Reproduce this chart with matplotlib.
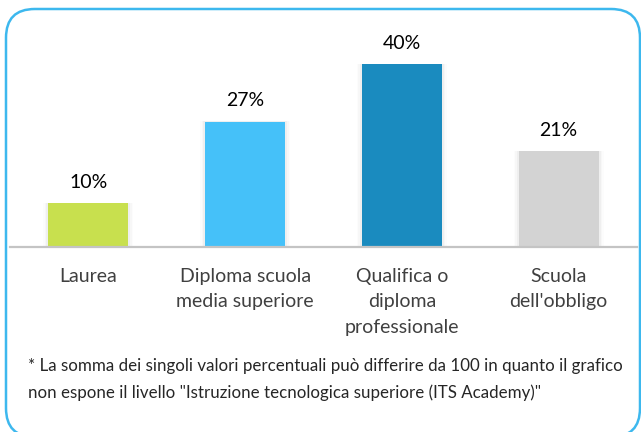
import matplotlib
matplotlib.use("Agg")
import matplotlib.pyplot as plt
from matplotlib.patches import FancyBboxPatch

categories = ["Laurea", "Diploma scuola\nmedia superiore", "Qualifica o\ndiploma\nprofessionale", "Scuola\ndell'obbligo"]
values = [9.6, 27.4, 40.0, 20.9]
value_labels = ["10%", "27%", "40%", "21%"]
colors = ["#C8E04E", "#45C1F9", "#1A8BBF", "#D3D3D3"]
footnote = ("* La somma dei singoli valori percentuali può differire da 100 in quanto il grafico\n"
            "non espone il livello \"Istruzione tecnologica superiore (ITS Academy)\"")

plt.rcParams['font.family'] = ['Lato', 'DejaVu Sans']

W, H = 641, 432
fig = plt.figure(figsize=(W/100, H/100), dpi=100)

def fx(px): return px / W
def fy(py): return 1 - py / H

border = FancyBboxPatch((fx(6), fy(437)), fx(640) - fx(6), fy(9) - fy(437),
                        boxstyle="round,pad=0,rounding_size=0.045",
                        transform=fig.transFigure, fill=False,
                        edgecolor="#3DB8EE", linewidth=1.8, clip_on=False,
                        mutation_aspect=W/H)
fig.patches.append(border)

ax_left, ax_right = 10, 637
ax_base, ax_top = 247, 20
ax = fig.add_axes([fx(ax_left), fy(ax_base), fx(ax_right) - fx(ax_left), fy(ax_top) - fy(ax_base)])
px_per_unit = 4.57
ax.set_ylim(0, (ax_base - ax_top) / px_per_unit)
ax.set_xlim(-0.5, len(values) - 0.5)

x = list(range(len(values)))
# soft shadow
for w, a in [(0.575, 0.012), (0.555, 0.02), (0.535, 0.03)]:
    ax.bar(x, [v + 0.1 for v in values], width=w, color="#000000", alpha=a, zorder=1, linewidth=0)
ax.bar(x, values, width=0.51, color=colors, zorder=2, linewidth=0)

for xi, v, lab in zip(x, values, value_labels):
    ax.annotate(lab, (xi, v), xytext=(0, 21), textcoords="offset pixels",
                ha="center", va="center", fontsize=14, color="#000000")

for s in ["top", "right", "left"]:
    ax.spines[s].set_visible(False)
ax.spines["bottom"].set_color("#C4C4C4")
ax.spines["bottom"].set_linewidth(1.6)
ax.spines["bottom"].set_zorder(3)
ax.set_yticks([])
ax.set_xticks(x)
ax.set_xticklabels(categories, fontsize=14, color="#404040", linespacing=1.6, va="top")
ax.tick_params(axis="x", length=0, pad=15)
ax.patch.set_alpha(0)

fig.text(fx(28), fy(379.5), footnote, fontsize=12.2, color="#262626",
         ha="left", va="center", linespacing=1.7)

fig.savefig("out.png", dpi=100)
